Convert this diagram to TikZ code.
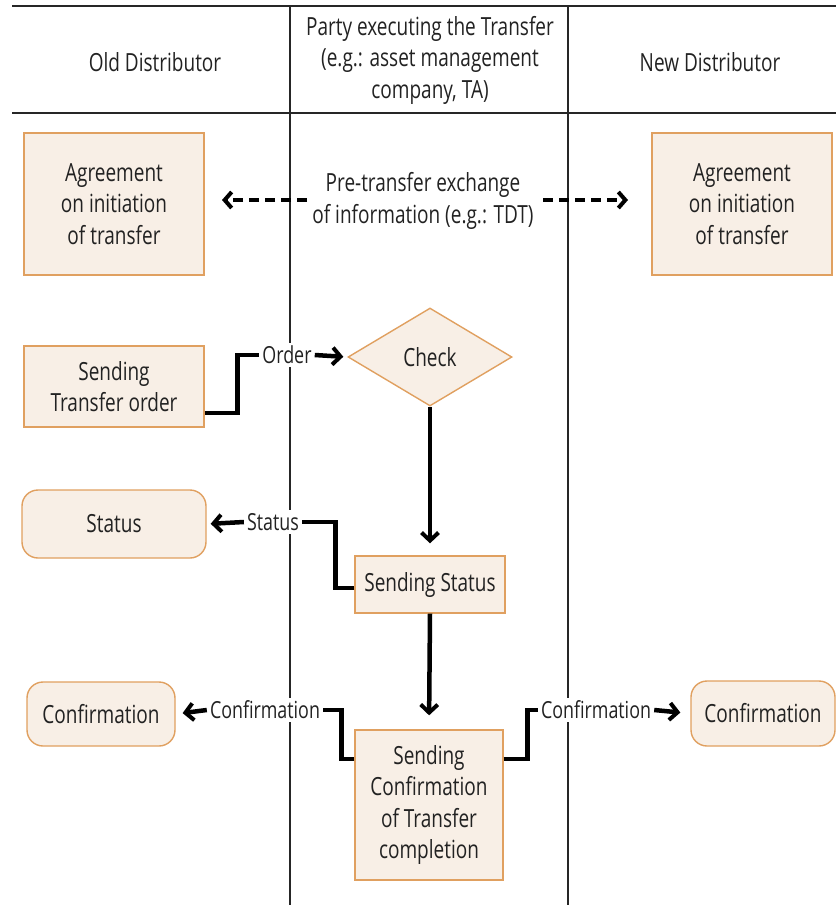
\documentclass[tikz,border=0pt]{standalone}
\usepackage{fontspec}
\setmainfont{Open Sans}[FakeStretch=0.76]
\usetikzlibrary{arrows.meta,shapes.geometric}
\definecolor{boxfill}{HTML}{F8EFE6}
\definecolor{boxdraw}{HTML}{E0A060}
\definecolor{txt}{HTML}{222222}
\tikzset{
  every node/.style={font=\fontsize{25}{31.5}\selectfont, text=txt, align=center},
  box/.style={draw=boxdraw, fill=boxfill, line width=1.4pt, inner sep=2pt},
  rbox/.style={box, rounded corners=16pt},
  lbl/.style={fill=white, inner sep=3pt, font=\fontsize{23.5}{28}\selectfont},
  lane/.style={line width=1.2pt, draw=black!85},
  conn/.style={line width=4.5pt, draw=black},
  arr/.style={line width=4.5pt, draw=black, -{Straight Barb[length=8pt,width=17pt,line width=4pt]}},
  dasharr/.style={line width=4.5pt, draw=black, dash pattern=on 10pt off 6pt, -{Straight Barb[length=7pt,width=16pt,line width=4pt]}},
}
\begin{document}
\begin{tikzpicture}[x=1pt,y=-1pt]
\useasboundingbox (0,0) rectangle (836,908);
% lanes
\draw[lane] (12,6) -- (836,6);
\draw[lane] (12,113) -- (836,113);
\draw[lane] (290,6) -- (290,905);
\draw[lane] (568,6) -- (568,905);
% headers
\node (h1) at (155,62) {Old Distributor};
\node (h2) at (430,60) {Party executing the Transfer\\(e.g.: asset management\\company, TA)};
\node (h3) at (710,62) {New Distributor};
% boxes
\node[box, minimum width=180pt, minimum height=142pt] (ag1) at (114,204) {Agreement\\on initiation\\of transfer};
\node[box, minimum width=180pt, minimum height=142pt] (ag2) at (742,204) {Agreement\\on initiation\\of transfer};
\node (pre) at (423,201) {Pre-transfer exchange\\of information (e.g.: TDT)};
\coordinate (dl) at (222,200);
\coordinate (dr) at (628,200);
\draw[dasharr] (307,200) -- (dl);
\draw[dasharr] (543,200) -- (dr);
\node[box, minimum width=180pt, minimum height=81pt] (sto) at (114,386.5) {Sending\\Transfer order};
\node[box, diamond, aspect=1.67, minimum width=164pt, minimum height=98pt, inner sep=0pt] (chk) at (430,357) {Check};
\node[box, minimum width=150pt, minimum height=57pt] (ss) at (430,584.5) {Sending Status};
\node[rbox, minimum width=184pt, minimum height=68pt] (st) at (114,524) {Status};
\node[box, minimum width=148pt, minimum height=150pt] (sc) at (429,805) {Sending\\Confirmation\\of Transfer\\completion};
\node[rbox, minimum width=148pt, minimum height=64pt] (cfl) at (101,714) {Confirmation};
\node[rbox, minimum width=144pt, minimum height=65pt] (cfr) at (763,713.5) {Confirmation};
% labels
\node[lbl] (ol) at (287,355) {Order};
\node[lbl] (sl) at (273,522) {Status};
\node[lbl] (cl) at (265,710) {Confirmation};
\node[lbl] (cr) at (596,710) {Confirmation};
% connectors
\draw[conn] ([yshift=-26.5pt]sto.east) -- ++(33,0) |- (ol.west);
\draw[arr, shorten >=4pt] (ol.east) -- (chk.west);
\draw[arr, shorten >=12pt] (chk.south) -- (ss.north);
\draw[conn] ([yshift=-3.5pt]ss.west) -- ++(-19,0) |- (sl.east);
\draw[arr, shorten >=4pt] (sl.west) -- (st.east);
\draw[arr, shorten >=14pt] (ss.south) -- (sc.north);
\draw[conn] ([yshift=46pt]sc.west) -- ++(-13,0) |- (cl.east);
\draw[arr, shorten >=7pt] (cl.west) -- (cfl.east);
\draw[conn] ([yshift=46pt]sc.east) -- ++(24,0) |- (cr.west);
\draw[arr, shorten >=10pt] (cr.east) -- (cfr.west);
\end{tikzpicture}
\end{document}
